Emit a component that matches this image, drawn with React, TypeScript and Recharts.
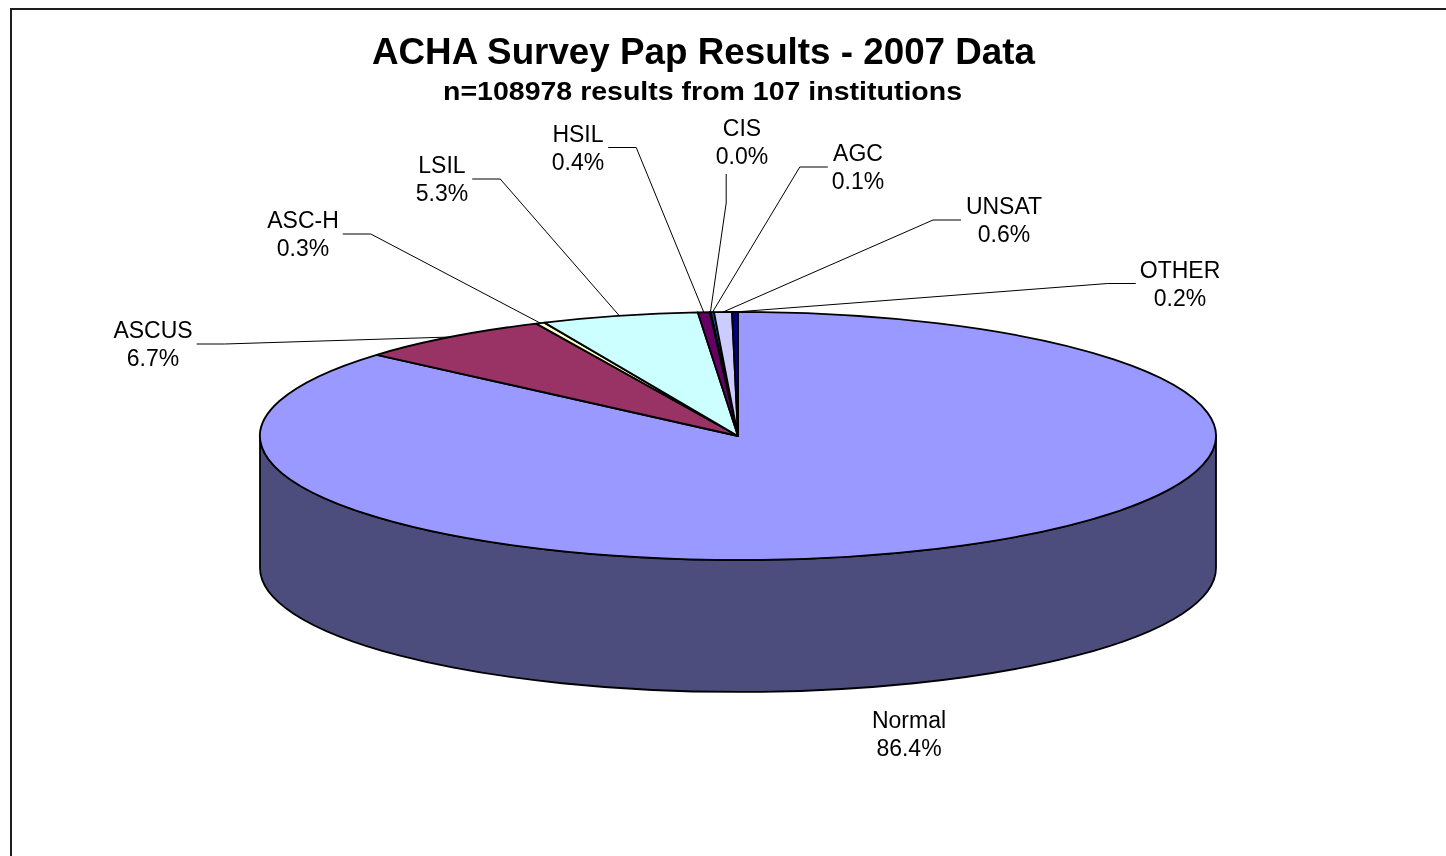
import React from 'react';
import { PieChart, Pie } from 'recharts';

// ---------- data ----------
const CATEGORIES = ['Normal', 'ASCUS', 'ASC-H', 'LSIL', 'HSIL', 'CIS', 'AGC', 'UNSAT', 'OTHER'];
const PERCENTS = [86.4, 6.7, 0.3, 5.3, 0.4, 0.04, 0.1, 0.6, 0.2];
const COLORS = ['#9999FF', '#993366', '#FFFFCC', '#CCFFFF', '#660066', '#FF8080', '#0066CC', '#CCCCFF', '#000080'];
const TITLE = 'ACHA Survey Pap Results - 2007 Data';
const SUBTITLE = 'n=108978 results from 107 institutions';

// label block centres (manually placed labels, as in the original)
const LABEL_X = [909, 153, 303, 442, 578, 742, 858, 1004, 1180];
const LABEL_Y = [734, 344, 234, 179, 147.5, 142, 167, 220, 283.5];

const data = CATEGORIES.map((name, i) => ({ name, value: PERCENTS[i] }));

// ---------- layout ----------
const W = 1446;
const H = 856;
const CX = 738;
const CY = 436;
const R = 478;
const TILT = 124 / 478;
const DEPTH = 132;
const RAD = Math.PI / 180;
const FONT = '"Liberation Sans", Arial, Helvetica, sans-serif';
const LABEL_FS = 23;

const CW: Record<string, number> = {
  A: 0.667, S: 0.667, C: 0.722, U: 0.722, H: 0.722, '-': 0.333, L: 0.556, I: 0.278, G: 0.778,
  N: 0.722, T: 0.611, O: 0.778, E: 0.667, R: 0.722, o: 0.556, r: 0.333, m: 0.833, a: 0.556,
  l: 0.222, '.': 0.278, '%': 0.889,
};
const textWidth = (s: string) =>
  s.split('').reduce((acc, ch) => acc + (CW[ch] ?? 0.556), 0) * LABEL_FS;

const ept = (cx: number, cy: number, rx: number, ry: number, a: number, dy = 0) => ({
  x: cx + rx * Math.cos(a * RAD),
  y: cy - ry * Math.sin(a * RAD) + dy,
});

const darken = (hex: string, f: number) => {
  const n = parseInt(hex.slice(1), 16);
  const r = Math.round(((n >> 16) & 255) * f);
  const g = Math.round(((n >> 8) & 255) * f);
  const b = Math.round((n & 255) * f * 0.98);
  return `rgb(${r},${g},${b})`;
};

// 3D side wall (only the front half is visible)
const renderWall = (p: any) => {
  const { cx, cy, outerRadius, startAngle, endAngle, index } = p;
  const rx = outerRadius;
  const ry = outerRadius * TILT;
  const lo = Math.max(Math.min(startAngle, endAngle), -180);
  const hi = Math.min(Math.max(startAngle, endAngle), 0);
  if (lo >= hi) return <g key={`w${index}`} />;
  const a = ept(cx, cy, rx, ry, hi);
  const b = ept(cx, cy, rx, ry, lo);
  const d = `M${a.x},${a.y} L${a.x},${a.y + DEPTH} A${rx},${ry} 0 0 1 ${b.x},${b.y + DEPTH} L${b.x},${b.y} A${rx},${ry} 0 0 0 ${a.x},${a.y} Z`;
  return (
    <path key={`w${index}`} d={d} fill={darken(COLORS[index], 0.5)} stroke="#000" strokeWidth={1.8} strokeLinejoin="round" />
  );
};

// top face of each slice (elliptical sector)
const renderTop = (p: any) => {
  const { cx, cy, outerRadius, startAngle, endAngle, index } = p;
  const rx = outerRadius;
  const ry = outerRadius * TILT;
  const s = ept(cx, cy, rx, ry, startAngle);
  const e = ept(cx, cy, rx, ry, endAngle);
  const large = Math.abs(startAngle - endAngle) > 180 ? 1 : 0;
  const sweep = startAngle > endAngle ? 1 : 0;
  const d = `M${cx},${cy} L${s.x},${s.y} A${rx},${ry} 0 ${large} ${sweep} ${e.x},${e.y} Z`;
  return (
    <path key={`t${index}`} d={d} fill={COLORS[index]} stroke="#000" strokeWidth={1.8} strokeLinejoin="round" />
  );
};

// labels with leader lines
const renderLabel = (p: any) => {
  const { cx, cy, outerRadius, midAngle, index, value, name } = p;
  const rx = outerRadius;
  const ry = outerRadius * TILT;
  const lx = LABEL_X[index];
  const ly = LABEL_Y[index];
  const l1 = String(name);
  const l2 = `${Number(value).toFixed(1)}%`;
  const half = Math.max(textWidth(l1), textWidth(l2)) / 2;
  const edge = ept(cx, cy, rx, ry, midAngle);
  let line = null;
  if (ly < cy) {
    let pts: number[][];
    if (Math.abs(lx - edge.x) < half + 10) {
      const x = (lx + edge.x) / 2;
      pts = [[x, ly + 32], [x, ly + 61], [edge.x, edge.y]];
    } else {
      const dir = edge.x > lx ? 1 : -1;
      const sx = lx + dir * (half + 4);
      pts = [[sx, ly], [sx + dir * 28, ly], [edge.x, edge.y]];
    }
    line = <polyline points={pts.map((q) => q.join(',')).join(' ')} fill="none" stroke="#000" strokeWidth={1} />;
  }
  return (
    <g key={`l${index}`}>
      {line}
      <text x={lx} y={ly - 14 + 8} textAnchor="middle" fontSize={LABEL_FS} fontFamily={FONT} fill="#000">{l1}</text>
      <text x={lx} y={ly + 14 + 8} textAnchor="middle" fontSize={LABEL_FS} fontFamily={FONT} fill="#000">{l2}</text>
    </g>
  );
};

export default function App() {
  const common = {
    data,
    dataKey: 'value',
    nameKey: 'name',
    cx: CX,
    cy: CY,
    innerRadius: 0,
    outerRadius: R,
    startAngle: 90,
    endAngle: -270,
    fill: 'none',
    stroke: 'none',
    labelLine: false,
    isAnimationActive: false,
  } as any;
  return (
    <div>
      <div
        style={{
          position: 'fixed', left: 10, top: 8, width: 1600, height: 1000,
          borderTop: '2px solid #1e1e1e', borderLeft: '2px solid #1e1e1e', background: '#fff',
        }}
      />
      <div style={{ position: 'fixed', left: 0, top: 0, width: W, height: H }}>
        <PieChart width={W} height={H} margin={{ top: 0, right: 0, bottom: 0, left: 0 }}>
          <Pie {...common} label={renderWall} />
          <Pie {...common} label={renderTop} />
          <Pie {...common} label={renderLabel} />
        </PieChart>
      </div>
      <svg style={{ position: 'fixed', left: 0, top: 0, pointerEvents: 'none' }} width={W} height={H}>
        <text x={703.5} y={64} textAnchor="middle" fontSize={37} fontWeight="bold" fontFamily={FONT} fill="#000"
          textLength={663} lengthAdjust="spacingAndGlyphs">{TITLE}</text>
        <text x={702.5} y={100} textAnchor="middle" fontSize={26} fontWeight="bold" fontFamily={FONT} fill="#000"
          textLength={519} lengthAdjust="spacingAndGlyphs">{SUBTITLE}</text>
      </svg>
    </div>
  );
}
